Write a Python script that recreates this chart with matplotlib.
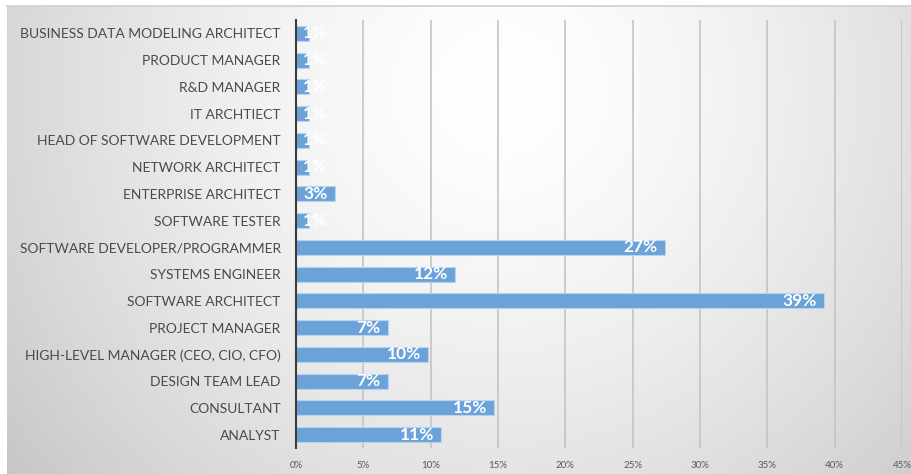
import numpy as np
import matplotlib.pyplot as plt
from matplotlib.ticker import FuncFormatter

roles = ["ANALYST", "CONSULTANT", "DESIGN TEAM LEAD", "HIGH-LEVEL MANAGER (CEO, CIO, CFO)",
         "PROJECT MANAGER", "SOFTWARE ARCHITECT", "SYSTEMS ENGINEER",
         "SOFTWARE DEVELOPER/PROGRAMMER", "SOFTWARE TESTER", "ENTERPRISE ARCHITECT",
         "NETWORK ARCHITECT", "HEAD OF SOFTWARE DEVELOPMENT", "IT ARCHTIECT",
         "R&D MANAGER", "PRODUCT MANAGER", "BUSINESS DATA MODELING ARCHITECT"]
share = [10.8, 14.7, 6.8, 9.8, 6.8, 39.2, 11.8, 27.4, 0.93, 2.9, 0.93, 0.93, 0.93, 0.93, 0.93, 0.93]
xticks = [0, 5, 10, 15, 20, 25, 30, 35, 40, 45]

W, H = 912, 474
fig = plt.figure(figsize=(W / 100, H / 100), dpi=100)
fig.patch.set_facecolor("white")

# soft grey radial background behind the chart area
bg = fig.add_axes([7 / W, 0, 1 - 7 / W, 1 - 6 / H], zorder=0)
xx, yy = np.meshgrid(np.arange(7, W), np.arange(6, H))
d = np.hypot(xx - 500, yy - 90)
shade = 1 - 0.14 * (d / 460) ** 1.5
shade = np.clip(shade, 0, 1)
bg.imshow(np.dstack([shade] * 3), aspect="auto", interpolation="bilinear")
bg.axis("off")
fig.add_artist(plt.Line2D([7 / W, 1], [1 - 6 / H, 1 - 6 / H], color="#d0d0d0", lw=1.2))

ax = fig.add_axes([296 / W, (H - 448) / H, (902 - 296) / W, (448 - 20) / H], zorder=1)
ax.patch.set_alpha(0)

y = np.arange(len(roles))
ax.barh(y, share, height=0.56, color="#6ba3d9", edgecolor="#b9d3ec", linewidth=0.8, zorder=3)

for yi, v in zip(y, share):
    txt = f"{v:.0f}%"
    if v < 2:
        ax.annotate(txt, (0, yi), xytext=(7, 0), textcoords="offset pixels", ha="left", va="center",
                    color="white", fontsize=12.5, fontweight="bold", family="Lato", zorder=4)
    else:
        ax.annotate(txt, (v, yi), xytext=(-7, 0), textcoords="offset pixels", ha="right", va="center",
                    color="white", fontsize=12.5, fontweight="bold", family="Lato", zorder=4)

ax.set_xlim(0, 45)
ax.set_ylim(-0.5, len(roles) - 0.5)
ax.set_xticks(xticks)
ax.xaxis.set_major_formatter(FuncFormatter(lambda v, p: f"{v:.0f}%"))
ax.set_yticks(y)
ax.set_yticklabels(roles)
ax.grid(axis="x", color="#c4c4c4", lw=1.2, zorder=1)
ax.set_axisbelow(True)

for s in ["top", "right", "bottom"]:
    ax.spines[s].set_visible(False)
ax.spines["left"].set_color("#3c3c3c")
ax.spines["left"].set_linewidth(1.5)
ax.spines["left"].set_zorder(5)

ax.tick_params(axis="y", length=0, pad=11, labelsize=10, labelcolor="#4a4a4a")
ax.tick_params(axis="x", length=0, pad=9, labelsize=7, labelcolor="#595959")
for lbl in ax.get_yticklabels() + ax.get_xticklabels():
    lbl.set_family("Lato")

fig.savefig("out.png", dpi=100)
